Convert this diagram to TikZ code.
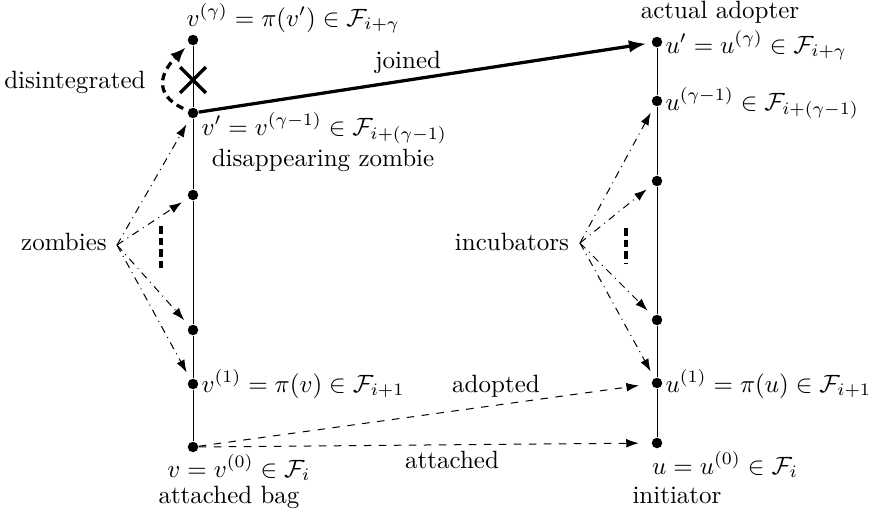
\documentclass[tikz,border=0pt]{standalone}
\usetikzlibrary{arrows.meta,shapes.misc}
\begin{document}
\begin{tikzpicture}[x=0.4pt,y=-0.4pt,
  dot/.style={circle,fill=black,inner sep=0pt,minimum size=4.2pt},
  lbl/.style={inner sep=0pt},
  ptr/.style={dashdotted,thin,-{Latex[length=5pt,width=3.5pt]},shorten >=3pt},
  dsh/.style={dashed,thin,-{Latex[length=5pt,width=3.5pt]},shorten >=3pt},
  dots/.style={line width=1.3pt,dash pattern=on 3pt off 1.6pt}]
\useasboundingbox (0,0) rectangle (878,514);
% left chain
\node[dot] (vg) at (193,40) {};
\node[dot] (vp) at (193,113) {};
\node[dot] (vz1) at (193,195) {};
\node[dot] (vz2) at (193,330) {};
\node[dot] (v1) at (193,384) {};
\node[dot] (v0) at (193,447) {};
\draw[thin] (vg) -- (vp) -- (vz1) -- (vz2) -- (v1) -- (v0);
% right chain
\node[dot] (up) at (657,42) {};
\node[dot] (ug) at (657,101) {};
\node[dot] (uz1) at (657,181) {};
\node[dot] (uz2) at (657,320) {};
\node[dot] (u1) at (657,383) {};
\node[dot] (u0) at (657,443) {};
\draw[thin] (up) -- (ug) -- (uz1) -- (uz2) -- (u1) -- (u0);
% labels left
\node[lbl,anchor=base west] (lvg) at (186,26) {$v^{(\gamma)}=\pi(v')\in\mathcal{F}_{i+\gamma}$};
\node[lbl,anchor=base west] (lvp) at (201,135) {$v'=v^{(\gamma-1)}\in\mathcal{F}_{i+(\gamma-1)}$};
\node[lbl,anchor=base] (ldz) at (323,166) {disappearing zombie};
\node[lbl,anchor=base west] (lv1) at (201,392) {$v^{(1)}=\pi(v)\in\mathcal{F}_{i+1}$};
\node[lbl,anchor=base] (lv0) at (239,477) {$v=v^{(0)}\in\mathcal{F}_i$};
\node[lbl,anchor=base] (lab) at (229,503) {attached bag};
\node[lbl,anchor=base east] (ldis) at (146,88) {disintegrated};
\node[lbl,anchor=base] (lzom) at (64,250) {zombies};
% labels right
\node[lbl,anchor=base] (laa) at (720,18) {actual adopter};
\node[lbl,anchor=base west] (lup) at (665,53) {$u'=u^{(\gamma)}\in\mathcal{F}_{i+\gamma}$};
\node[lbl,anchor=base west] (lug) at (665,110) {$u^{(\gamma-1)}\in\mathcal{F}_{i+(\gamma-1)}$};
\node[lbl,anchor=base west] (lu1) at (665,392) {$u^{(1)}=\pi(u)\in\mathcal{F}_{i+1}$};
\node[lbl,anchor=base] (lu0) at (725,474) {$u=u^{(0)}\in\mathcal{F}_i$};
\node[lbl,anchor=base] (lini) at (677,503) {initiator};
\node[lbl,anchor=base] (linc) at (512,250) {incubators};
% joined
\draw[line width=1.3pt,-{Latex[length=7pt,width=5pt]},shorten >=2pt] (vp) -- (up);
\node[lbl,anchor=base] (ljo) at (408,68) {joined};
% disintegrated
\draw[line width=1.3pt,dash pattern=on 3pt off 2pt,-{Latex[length=6pt,width=5pt]},shorten >=2pt,shorten <=2pt] (vp) to[out=155,in=225,looseness=1.5] (vg);
\node[cross out,draw,line width=1.3pt,minimum size=9pt,inner sep=0pt] (xx) at (193,80) {};
% zombies
\coordinate (zs) at (117,245);
\draw[ptr] (zs) -- (vp);
\draw[ptr] (zs) -- (vz1);
\draw[ptr] (zs) -- (vz2);
\draw[ptr] (zs) -- (v1);
\coordinate (zd1) at (161,226);
\coordinate (zd2) at (161,270);
\draw[dots] (zd1) -- (zd2);
% incubators
\coordinate (is) at (580,243);
\draw[ptr] (is) -- (ug);
\draw[ptr] (is) -- (uz1);
\draw[ptr] (is) -- (uz2);
\draw[ptr] (is) -- (u1);
\coordinate (id1) at (626,228);
\coordinate (id2) at (626,264);
\draw[dots] (id1) -- (id2);
% adopted / attached
\draw[dsh,shorten >=5pt] (v0) -- (u1);
\node[lbl,anchor=base] (lad) at (496,392) {adopted};
\draw[dsh,shorten >=5pt] (v0) -- (u0);
\node[lbl,anchor=base] (lat) at (452,468) {attached};
\end{tikzpicture}
\end{document}
